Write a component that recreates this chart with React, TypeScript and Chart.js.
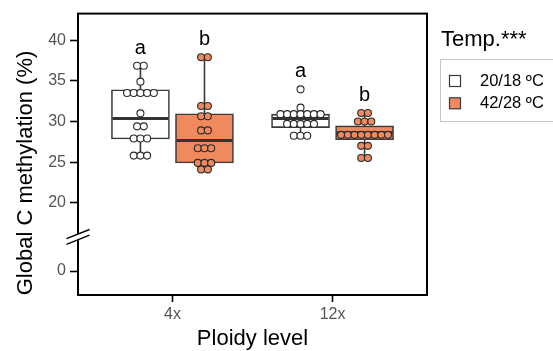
import React, { useEffect, useRef } from 'react';
import { Chart, registerables } from 'chart.js';

Chart.register(...registerables);

// ---------- data ----------
const categories = ['4x', '12x'];
const groupNames = ['20/18 ºC', '42/28 ºC'];
const legendTitle = 'Temp.***';
const xTitle = 'Ploidy level';
const yTitle = 'Global C methylation (%)';
const yTickValues = [0, 20, 25, 30, 35, 40];

// box statistics per category (4x, 12x)
const coolQ1 = [27.85, 29.25];
const coolMedian = [30.35, 30.35];
const coolQ3 = [33.9, 30.9];
const coolMin = [25.8, 28.25];
const coolMax = [36.85, 31.7];

const hotQ1 = [24.9, 27.75];
const hotMedian = [27.65, 28.6];
const hotQ3 = [30.95, 29.45];
const hotMin = [24.1, 25.5];
const hotMax = [37.9, 31.05];

// individual observations
const cool4x = [36.85, 36.85, 34.9, 33.5, 33.5, 33.5, 33.5, 33.5, 31.0, 29.4, 29.4, 27.9, 27.9, 27.9, 25.8, 25.8, 25.8];
const hot4x = [37.9, 37.9, 31.9, 31.9, 30.65, 30.65, 28.9, 28.9, 26.7, 26.7, 26.7, 24.9, 24.9, 24.9, 24.1, 24.1];
const cool12x = [33.95, 31.7, 30.9, 30.9, 30.9, 30.9, 30.9, 30.9, 30.9, 29.7, 29.7, 29.7, 29.7, 29.7, 28.25, 28.25, 28.25];
const hot12x = [31.05, 31.05, 30.0, 30.0, 30.0, 28.35, 28.35, 28.35, 28.35, 28.35, 28.35, 28.35, 28.35, 27.0, 27.0, 25.5, 25.5];

// significance letters
const coolLetters = ['a', 'a'];
const hotLetters = ['b', 'b'];

// ---------- styling / axis break ----------
const COOL_FILL = '#ffffff';
const HOT_FILL = '#F0895E';
const EDGE = '#3a3a3a';
const FONT = "'Liberation Sans', Arial, Helvetica, sans-serif";
const BREAK_AT = 20;
const LOWER_SHIFT = 11.6; // display offset of values below the break
const toDisplay = (v: number) => (v >= BREAK_AT ? v : v + LOWER_SHIFT);
const fromDisplay = (d: number) => (d >= BREAK_AT - 1e-6 ? d : d - LOWER_SHIFT);

const CAT_POS = [1, 2];
const DODGE = 0.2;
const BOX_PX = 58;
const DOT_STEP_PX = 6.7;
const DOT_R = 3.5;
const X_MIN = 0.41;
const X_MAX = 2.59;
const PX_PER_X = 349 / (X_MAX - X_MIN);

function swarm(values: number[], center: number) {
  const counts = new Map<number, number>();
  values.forEach((v) => counts.set(v, (counts.get(v) || 0) + 1));
  const seen = new Map<number, number>();
  return values.map((v) => {
    const n = counts.get(v) as number;
    const i = seen.get(v) || 0;
    seen.set(v, i + 1);
    return { x: center + ((i - (n - 1) / 2) * DOT_STEP_PX) / PX_PER_X, y: toDisplay(v) };
  });
}

function boxes(q1: number[], med: number[], q3: number[], mn: number[], mx: number[], off: number) {
  return CAT_POS.map((c, i) => ({ x: c + off, q1: q1[i], med: med[i], q3: q3[i], min: mn[i], max: mx[i] }));
}

const coolBoxes = boxes(coolQ1, coolMedian, coolQ3, coolMin, coolMax, -DODGE);
const hotBoxes = boxes(hotQ1, hotMedian, hotQ3, hotMin, hotMax, DODGE);
const coolPoints = [cool4x, cool12x];
const hotPoints = [hot4x, hot12x];

const extrasPlugin = {
  id: 'boxExtras',
  afterDatasetDraw(chart: any, args: any) {
    const ds = chart.data.datasets[args.index];
    if (!ds.boxStats) return;
    const { ctx } = chart;
    const x = chart.scales.x;
    const y = chart.scales.y;
    ctx.save();
    ds.boxStats.forEach((s: any) => {
      const cx = x.getPixelForValue(s.x);
      ctx.strokeStyle = EDGE;
      ctx.lineWidth = 1.6;
      ctx.beginPath();
      ctx.moveTo(cx, y.getPixelForValue(toDisplay(s.q3)));
      ctx.lineTo(cx, y.getPixelForValue(toDisplay(s.max)));
      ctx.moveTo(cx, y.getPixelForValue(toDisplay(s.q1)));
      ctx.lineTo(cx, y.getPixelForValue(toDisplay(s.min)));
      ctx.stroke();
      ctx.lineWidth = 3;
      ctx.strokeStyle = '#333333';
      const my = y.getPixelForValue(toDisplay(s.med));
      ctx.beginPath();
      ctx.moveTo(cx - BOX_PX / 2 + 1, my);
      ctx.lineTo(cx + BOX_PX / 2 - 1, my);
      ctx.stroke();
    });
    ctx.restore();
  },
  afterDraw(chart: any) {
    const { ctx, chartArea: a } = chart;
    const x = chart.scales.x;
    const y = chart.scales.y;
    ctx.save();
    // frame
    ctx.strokeStyle = '#000';
    ctx.lineWidth = 2;
    ctx.strokeRect(a.left, a.top, a.right - a.left, a.bottom - a.top);

    // axis break marks
    const by = y.getPixelForValue((toDisplay(0) + BREAK_AT) / 2);
    const bx = a.left;
    const hw = 11.5, hh = 4.6, gap = 2.8;
    ctx.fillStyle = '#fff';
    ctx.beginPath();
    ctx.moveTo(bx - 4, by - gap + 1.6);
    ctx.lineTo(bx + 4, by - gap - 1.6);
    ctx.lineTo(bx + 4, by + gap - 1.6);
    ctx.lineTo(bx - 4, by + gap + 1.6);
    ctx.closePath();
    ctx.fill();
    ctx.lineWidth = 1.4;
    ctx.strokeStyle = '#000';
    [-gap, gap].forEach((o) => {
      ctx.beginPath();
      ctx.moveTo(bx - hw, by + o + hh);
      ctx.lineTo(bx + hw, by + o - hh);
      ctx.stroke();
    });

    // significance letters
    ctx.fillStyle = '#000';
    ctx.font = `20px ${FONT}`;
    ctx.textAlign = 'center';
    ctx.textBaseline = 'alphabetic';
    const drawLetters = (bxs: any[], pts: number[][], letters: string[]) => {
      bxs.forEach((b, i) => {
        const top = Math.max(...pts[i]);
        const py = y.getPixelForValue(toDisplay(top)) - DOT_R - 8.5;
        ctx.fillText(letters[i], x.getPixelForValue(b.x), py);
      });
    };
    drawLetters(coolBoxes, coolPoints, coolLetters);
    drawLetters(hotBoxes, hotPoints, hotLetters);

    // axis titles
    ctx.font = `22px ${FONT}`;
    ctx.textBaseline = 'alphabetic';
    ctx.fillText(xTitle, (a.left + a.right) / 2, 345);
    ctx.save();
    ctx.translate(32, 173);
    ctx.rotate(-Math.PI / 2);
    ctx.fillText(yTitle, 0, 0);
    ctx.restore();

    // legend
    ctx.textAlign = 'left';
    ctx.font = `22px ${FONT}`;
    ctx.fillText(legendTitle, 441, 46);
    ctx.strokeStyle = '#c8c8c8';
    ctx.lineWidth = 1;
    ctx.strokeRect(440.5, 59.5, 120, 62);
    const fills = [COOL_FILL, HOT_FILL];
    ctx.font = `16.5px ${FONT}`;
    ctx.textBaseline = 'middle';
    groupNames.forEach((g, i) => {
      const cy = 81 + i * 22.3;
      ctx.fillStyle = fills[i];
      ctx.fillRect(449.5, cy - 5.5, 11, 11);
      ctx.strokeStyle = EDGE;
      ctx.lineWidth = 1.2;
      ctx.strokeRect(449.5, cy - 5.5, 11, 11);
      ctx.fillStyle = '#000';
      ctx.fillText(g, 480, cy + 0.5);
    });
    ctx.restore();
  },
};

export default function App() {
  const ref = useRef<HTMLCanvasElement | null>(null);
  useEffect(() => {
    document.body.style.margin = '0';
    if (!ref.current) return;
    const barDs = (label: string, bxs: any[], fill: string) => ({
      type: 'bar' as const,
      label,
      data: bxs.map((b) => ({ x: b.x, y: [toDisplay(b.q1), toDisplay(b.q3)] })),
      backgroundColor: fill,
      borderColor: EDGE,
      borderWidth: 1.6,
      borderSkipped: false,
      barThickness: BOX_PX,
      grouped: false,
      order: 2,
      boxStats: bxs,
    });
    const dotDs = (label: string, pts: number[][], bxs: any[], fill: string) => ({
      type: 'scatter' as const,
      label,
      data: pts.flatMap((p, i) => swarm(p, bxs[i].x)),
      backgroundColor: fill,
      borderColor: '#2b2b2b',
      borderWidth: 1.1,
      pointRadius: DOT_R,
      order: 0,
    });
    const chart = new Chart(ref.current, {
      type: 'bar',
      data: {
        datasets: [
          barDs(groupNames[0], coolBoxes, COOL_FILL),
          barDs(groupNames[1], hotBoxes, HOT_FILL),
          dotDs(groupNames[0] + ' obs', coolPoints, coolBoxes, COOL_FILL),
          dotDs(groupNames[1] + ' obs', hotPoints, hotBoxes, HOT_FILL),
        ] as any,
      },
      options: {
        animation: false,
        responsive: false,
        devicePixelRatio: 1,
        layout: { padding: { left: 0, top: 10, right: 126, bottom: 0 } },
        plugins: { legend: { display: false }, tooltip: { enabled: false } },
        scales: {
          x: {
            type: 'linear',
            offset: false,
            min: X_MIN,
            max: X_MAX,
            border: { display: false },
            grid: { offset: false, drawOnChartArea: false, drawTicks: true, tickLength: 7, tickWidth: 1.6, tickColor: '#000', color: '#000' },
            afterBuildTicks: (s: any) => {
              s.ticks = CAT_POS.map((v) => ({ value: v }));
            },
            afterFit: (s: any) => {
              s.height = 56;
            },
            ticks: {
              color: '#555555',
              font: { size: 16, family: FONT },
              padding: 3,
              callback: (v: any) => categories[Math.round(v) - 1],
            },
          },
          y: {
            type: 'linear',
            min: 8.65,
            max: 43.27,
            border: { display: false },
            grid: { drawOnChartArea: false, drawTicks: true, tickLength: 8, tickWidth: 1.6, tickColor: '#000', color: '#000' },
            afterBuildTicks: (s: any) => {
              s.ticks = yTickValues.map((v) => ({ value: toDisplay(v) }));
            },
            afterFit: (s: any) => {
              s.width = 78;
            },
            ticks: {
              color: '#555555',
              font: { size: 16, family: FONT },
              padding: 4,
              callback: (v: any) => String(Math.round(fromDisplay(v))),
            },
          },
        },
      } as any,
      plugins: [extrasPlugin],
    });
    return () => chart.destroy();
  }, []);
  return (
    <div style={{ position: 'fixed', left: 0, top: 0, width: 553, height: 351, background: '#fff' }}>
      <canvas ref={ref} width={553} height={351} />
    </div>
  );
}
